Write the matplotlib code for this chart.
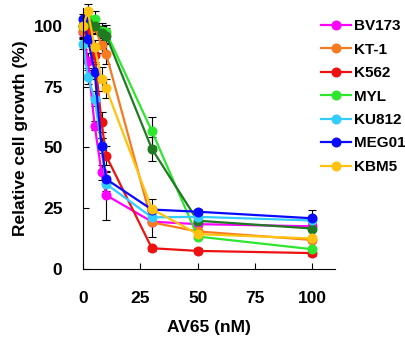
import numpy as np
import matplotlib
matplotlib.use('Agg')
import matplotlib.pyplot as plt

plt.rcParams['font.family'] = ['Liberation Sans', 'DejaVu Sans']
plt.rcParams['font.weight'] = 'bold'

# doses (nM)
dose = [0, 2, 5, 8, 10, 30, 50, 100]

bv173 = [97.4, 85.7, 59.0, 39.8, 30.4, 19.5, 18.5, 17.6]
kt1 = [98.0, 100.0, 99.5, 92.0, 88.5, 19.2, 15.5, 12.0]
k562 = [100.0, 98.0, 88.0, 60.4, 46.6, 8.6, 7.5, 6.6]
myl = [100.0, 103.0, 102.9, 98.0, 97.4, 56.7, 13.4, 8.2]
dkgreen = [100.0, 101.0, 100.0, 97.0, 96.0, 49.4, 19.9, 16.7]
ku812 = [92.6, 78.9, 70.0, 50.8, 35.0, 21.3, 21.5, 20.0]
meg01 = [102.9, 94.7, 81.2, 50.8, 37.0, 24.5, 23.6, 20.9]
kbm5 = [100.0, 106.0, 91.2, 78.2, 74.3, 24.7, 14.4, 12.6]

err_bv173 = [2, 3, 2, 3, 10, 1, 1, 1]
err_kt1 = [3, 4, 3, 3, 4, 6, 1, 1]
err_k562 = [2, 3, 3, 4, 4, 1, 1, 1]
err_myl = [2, 3, 3, 3, 3, 6, 1, 1]
err_dkgreen = [2, 3, 3, 3, 3, 5, 1, 1]
err_ku812 = [2, 3, 3, 3, 3, 1, 1, 1]
err_meg01 = [2, 3, 3, 3, 3, 1, 1, 3.5]
err_kbm5 = [2, 3, 3, 5, 4, 4, 1, 1]

series = [
    ('BV173', bv173, err_bv173, '#ff00ff'),
    ('KT-1', kt1, err_kt1, '#f57a20'),
    ('K562', k562, err_k562, '#ee1111'),
    ('MYL', myl, err_myl, '#2ee62e'),
    ('_dk', dkgreen, err_dkgreen, '#1f7a22'),
    ('KU812', ku812, err_ku812, '#33ccff'),
    ('MEG01', meg01, err_meg01, '#0a0aff'),
    ('KBM5', kbm5, err_kbm5, '#ffc20e'),
]

fig = plt.figure(figsize=(4.06, 3.42), dpi=100)
ax = fig.add_axes([0.205, 0.213, 0.62, 0.765])

# error bars first (black), then lines
for name, y, e, c in series:
    ax.errorbar(dose, y, yerr=e, fmt='none', ecolor='black', elinewidth=0.8,
                capsize=3, capthick=0.8, clip_on=False, zorder=1)
for name, y, e, c in series:
    ax.plot(dose, y, '-o', color=c, lw=1.6, ms=6.2, label=name, clip_on=False, zorder=2)

ax.set_xlim(0, 110)
ax.set_ylim(0, 107.5)
ax.set_xticks([0, 25, 50, 75, 100])
ax.set_yticks([0, 25, 50, 75, 100])
ax.tick_params(direction='in', length=4.3, width=0.8, labelsize=12.5)
ax.tick_params(axis='x', pad=16)
ax.tick_params(axis='y', pad=15)
for lab in ax.get_xticklabels() + ax.get_yticklabels():
    lab.set_fontweight('bold')
ax.spines['top'].set_visible(False)
ax.spines['right'].set_visible(False)

ax.set_xlabel('AV65 (nM)', fontsize=12.5, fontweight='bold', labelpad=10)
ax.set_ylabel('Relative cell growth (%)', fontsize=12.5, fontweight='bold', labelpad=4)

leg = fig.legend(loc='upper left', bbox_to_anchor=(0.775, 0.962), frameon=False,
                 fontsize=11, handlelength=2.0, handletextpad=0.2, labelspacing=0.62,
                 borderaxespad=0)
for t in leg.get_texts():
    t.set_fontweight('bold')

fig.savefig('out.png', dpi=100)
